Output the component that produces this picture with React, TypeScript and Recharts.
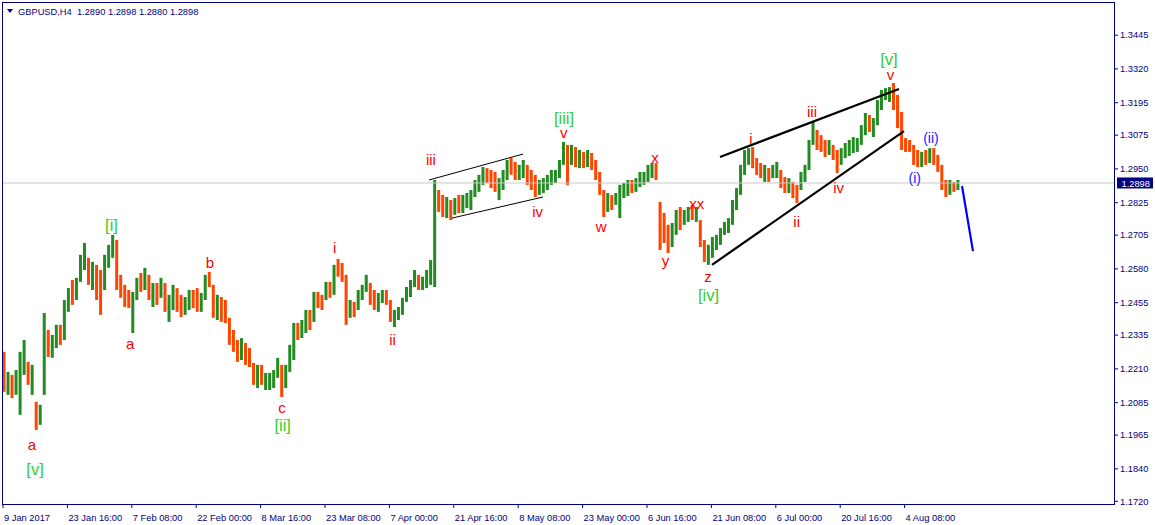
import React from 'react';
import { ComposedChart, Bar, XAxis, YAxis, Cell, ReferenceLine, ReferenceDot } from 'recharts';

const highs = [
  1.2273, 1.2199, 1.2188, 1.2206, 1.2273, 1.2317, 1.2236, 1.2225, 1.2088, 1.2077,
  1.2417, 1.2354, 1.2336, 1.2373, 1.2373, 1.2465, 1.2509, 1.2539, 1.2547, 1.2632,
  1.2676, 1.2621, 1.2606, 1.2595, 1.2576, 1.2632, 1.2669, 1.2706, 1.2687, 1.2558,
  1.2521, 1.2502, 1.2495, 1.2547, 1.2565, 1.2584, 1.2558, 1.2528, 1.2528, 1.2547,
  1.2528, 1.2484, 1.2521, 1.2509, 1.2484, 1.2476, 1.2502, 1.2502, 1.2509, 1.2491,
  1.2558, 1.2569, 1.2521, 1.2484, 1.2476, 1.2465, 1.2399, 1.2354, 1.2317, 1.2324,
  1.2306, 1.2287, 1.2232, 1.2225, 1.2225, 1.2195, 1.2195, 1.2206, 1.2251, 1.2225,
  1.2225, 1.2299, 1.2380, 1.2380, 1.2391, 1.2428, 1.2428, 1.2495, 1.2495, 1.2484,
  1.2532, 1.2532, 1.2595, 1.2617, 1.2602, 1.2558, 1.2465, 1.2458, 1.2502, 1.2521,
  1.2558, 1.2528, 1.2502, 1.2491, 1.2502, 1.2502, 1.2465, 1.2428, 1.2439, 1.2473,
  1.2513, 1.2539, 1.2576, 1.2558, 1.2551, 1.2576, 1.2613, 1.2909, 1.2872, 1.2854,
  1.2846, 1.2835, 1.2842, 1.2854, 1.2854, 1.2861, 1.2872, 1.2909, 1.2928, 1.2957,
  1.2953, 1.2946, 1.2939, 1.2916, 1.2946, 1.2983, 1.2990, 1.2976, 1.2965, 1.2983,
  1.2965, 1.2946, 1.2928, 1.2909, 1.2916, 1.2928, 1.2946, 1.2946, 1.2983, 1.3050,
  1.3039, 1.3039, 1.3031, 1.3020, 1.3013, 1.3020, 1.3009, 1.2983, 1.2939, 1.2872,
  1.2861, 1.2854, 1.2861, 1.2891, 1.2898, 1.2909, 1.2909, 1.2916, 1.2939, 1.2939,
  1.2965, 1.2972, 1.2972, 1.2828, 1.2787, 1.2743, 1.2750, 1.2798, 1.2809, 1.2798,
  1.2809, 1.2817, 1.2809, 1.2761, 1.2687, 1.2669, 1.2698, 1.2706, 1.2731, 1.2754,
  1.2768, 1.2835, 1.2879, 1.2965, 1.3020, 1.3027, 1.3031, 1.2990, 1.2972, 1.2965,
  1.2953, 1.2965, 1.2976, 1.2946, 1.2920, 1.2916, 1.2902, 1.2891, 1.2939, 1.2965,
  1.3057, 1.3124, 1.3094, 1.3075, 1.3057, 1.3057, 1.3039, 1.3020, 1.3027, 1.3046,
  1.3057, 1.3068, 1.3064, 1.3112, 1.3157, 1.3150, 1.3138, 1.3205, 1.3242, 1.3249,
  1.3253, 1.3268, 1.3224, 1.3161, 1.3064, 1.3057, 1.3039, 1.3020, 1.3013, 1.3020,
  1.3027, 1.3027, 1.3002, 1.2965, 1.2909, 1.2909, 1.2902, 1.2909,
];

const lows = [
  1.2125, 1.2114, 1.2102, 1.2114, 1.2040, 1.2188, 1.2151, 1.2114, 1.1984, 1.2003,
  1.2114, 1.2254, 1.2251, 1.2287, 1.2299, 1.2317, 1.2421, 1.2447, 1.2465, 1.2532,
  1.2576, 1.2521, 1.2502, 1.2465, 1.2410, 1.2502, 1.2584, 1.2621, 1.2502, 1.2473,
  1.2439, 1.2435, 1.2343, 1.2465, 1.2495, 1.2502, 1.2465, 1.2439, 1.2447, 1.2473,
  1.2421, 1.2384, 1.2428, 1.2421, 1.2402, 1.2410, 1.2428, 1.2435, 1.2421, 1.2421,
  1.2465, 1.2513, 1.2399, 1.2391, 1.2384, 1.2380, 1.2299, 1.2273, 1.2236, 1.2243,
  1.2225, 1.2217, 1.2151, 1.2139, 1.2151, 1.2132, 1.2132, 1.2139, 1.2177, 1.2106,
  1.2139, 1.2199, 1.2243, 1.2317, 1.2324, 1.2343, 1.2354, 1.2384, 1.2435, 1.2428,
  1.2465, 1.2473, 1.2484, 1.2551, 1.2532, 1.2373, 1.2399, 1.2402, 1.2428, 1.2465,
  1.2495, 1.2447, 1.2428, 1.2421, 1.2454, 1.2447, 1.2384, 1.2365, 1.2391, 1.2410,
  1.2458, 1.2476, 1.2513, 1.2502, 1.2502, 1.2509, 1.2521, 1.2513, 1.2791, 1.2772,
  1.2768, 1.2761, 1.2780, 1.2787, 1.2787, 1.2805, 1.2798, 1.2846, 1.2865, 1.2891,
  1.2898, 1.2879, 1.2865, 1.2835, 1.2872, 1.2909, 1.2928, 1.2909, 1.2909, 1.2916,
  1.2891, 1.2872, 1.2846, 1.2854, 1.2861, 1.2872, 1.2891, 1.2898, 1.2916, 1.2965,
  1.2891, 1.2965, 1.2957, 1.2953, 1.2953, 1.2957, 1.2946, 1.2909, 1.2854, 1.2772,
  1.2791, 1.2798, 1.2817, 1.2768, 1.2842, 1.2850, 1.2861, 1.2865, 1.2883, 1.2891,
  1.2902, 1.2916, 1.2909, 1.2650, 1.2676, 1.2639, 1.2661, 1.2706, 1.2724, 1.2743,
  1.2754, 1.2761, 1.2754, 1.2661, 1.2606, 1.2595, 1.2621, 1.2650, 1.2669, 1.2706,
  1.2713, 1.2743, 1.2798, 1.2854, 1.2928, 1.2965, 1.2953, 1.2928, 1.2916, 1.2902,
  1.2902, 1.2916, 1.2916, 1.2879, 1.2861, 1.2861, 1.2842, 1.2824, 1.2872, 1.2902,
  1.2946, 1.3039, 1.3020, 1.3013, 1.2994, 1.3002, 1.2983, 1.2935, 1.2965, 1.2990,
  1.2998, 1.3009, 1.3013, 1.3039, 1.3075, 1.3087, 1.3068, 1.3112, 1.3168, 1.3205,
  1.3198, 1.3168, 1.3101, 1.3020, 1.3013, 1.3013, 1.2965, 1.2957, 1.2957, 1.2965,
  1.2972, 1.2965, 1.2939, 1.2872, 1.2846, 1.2854, 1.2865, 1.2872,
];

const closes = [
  1.2151, 1.2169, 1.2125, 1.2188, 1.2243, 1.2262, 1.2169, 1.2206, 1.2021, 1.2065,
  1.2373, 1.2280, 1.2299, 1.2354, 1.2317, 1.2447, 1.2495, 1.2465, 1.2532, 1.2606,
  1.2650, 1.2539, 1.2576, 1.2502, 1.2465, 1.2621, 1.2650, 1.2687, 1.2521, 1.2502,
  1.2484, 1.2465, 1.2465, 1.2521, 1.2509, 1.2558, 1.2484, 1.2502, 1.2465, 1.2532,
  1.2447, 1.2465, 1.2484, 1.2473, 1.2428, 1.2465, 1.2484, 1.2465, 1.2447, 1.2473,
  1.2547, 1.2539, 1.2428, 1.2447, 1.2410, 1.2399, 1.2317, 1.2299, 1.2262, 1.2299,
  1.2280, 1.2236, 1.2177, 1.2199, 1.2169, 1.2169, 1.2177, 1.2188, 1.2236, 1.2151,
  1.2206, 1.2280, 1.2361, 1.2336, 1.2373, 1.2410, 1.2391, 1.2473, 1.2465, 1.2454,
  1.2502, 1.2484, 1.2576, 1.2569, 1.2547, 1.2428, 1.2447, 1.2428, 1.2484, 1.2509,
  1.2521, 1.2465, 1.2447, 1.2473, 1.2484, 1.2465, 1.2399, 1.2410, 1.2428, 1.2465,
  1.2502, 1.2528, 1.2547, 1.2532, 1.2539, 1.2558, 1.2576, 1.2872, 1.2817, 1.2798,
  1.2817, 1.2780, 1.2835, 1.2798, 1.2817, 1.2842, 1.2854, 1.2891, 1.2902, 1.2939,
  1.2916, 1.2898, 1.2879, 1.2891, 1.2928, 1.2965, 1.2946, 1.2928, 1.2946, 1.2953,
  1.2909, 1.2891, 1.2872, 1.2891, 1.2902, 1.2909, 1.2916, 1.2928, 1.2965, 1.3027,
  1.2983, 1.3020, 1.2983, 1.3002, 1.2976, 1.2990, 1.2965, 1.2928, 1.2872, 1.2817,
  1.2842, 1.2835, 1.2842, 1.2854, 1.2872, 1.2891, 1.2879, 1.2902, 1.2916, 1.2924,
  1.2946, 1.2953, 1.2928, 1.2724, 1.2706, 1.2669, 1.2724, 1.2780, 1.2761, 1.2780,
  1.2791, 1.2780, 1.2798, 1.2687, 1.2632, 1.2650, 1.2669, 1.2687, 1.2717, 1.2739,
  1.2754, 1.2817, 1.2865, 1.2946, 1.3002, 1.3002, 1.2983, 1.2946, 1.2928, 1.2939,
  1.2916, 1.2946, 1.2965, 1.2891, 1.2879, 1.2891, 1.2872, 1.2854, 1.2916, 1.2946,
  1.3039, 1.3094, 1.3050, 1.3039, 1.3020, 1.3039, 1.3002, 1.2965, 1.3013, 1.3027,
  1.3039, 1.3050, 1.3057, 1.3094, 1.3138, 1.3112, 1.3124, 1.3187, 1.3224, 1.3224,
  1.3235, 1.3205, 1.3131, 1.3057, 1.3039, 1.3027, 1.3002, 1.2983, 1.2990, 1.2983,
  1.3002, 1.2983, 1.2953, 1.2891, 1.2872, 1.2891, 1.2879, 1.2898,
];

const xTickIndex = [
  -0.125, 15.875, 31.875, 47.875, 63.875, 79.875, 95.875, 111.875,
  127.875, 143.875, 159.875, 175.875, 191.875, 207.875, 223.875,
];
const xTickLabels = [
  '9 Jan 2017', '23 Jan 16:00', '7 Feb 08:00', '22 Feb 00:00', '8 Mar 16:00',
  '23 Mar 08:00', '7 Apr 00:00', '21 Apr 16:00', '8 May 08:00', '23 May 00:00',
  '6 Jun 16:00', '21 Jun 08:00', '6 Jul 00:00', '20 Jul 16:00', '4 Aug 08:00',
];
const yTicks = [
  1.172, 1.184, 1.1965, 1.2085, 1.221, 1.2335, 1.2455, 1.258,
  1.2705, 1.2825, 1.295, 1.3075, 1.3195, 1.332, 1.3445,
];
const lastPrice = 1.2898;
const titleText = 'GBPUSD,H4  1.2890 1.2898 1.2880 1.2898';

// Elliott wave labels: bar index, price (baseline), text, kind
const waveIndex = [
  7.83, 26.83, 69.37, 139.25, 175.16, 220.0,
  7.08, 31.5, 51.3, 69.19, 82.29, 96.65, 106.2, 132.72, 139.18, 148.52, 161.86,
  164.47, 172.22, 175.03, 185.71, 197.07, 200.87, 207.5, 220.37,
  226.4, 230.43,
];
const wavePrice = [
  1.1819, 1.2722, 1.198, 1.3118, 1.2463, 1.3334,
  1.191, 1.2284, 1.2583, 1.2047, 1.2638, 1.2299, 1.2965, 1.2773, 1.3063, 1.2718, 1.2971,
  1.259, 1.2801, 1.2533, 1.3042, 1.2736, 1.3143, 1.286, 1.3279,
  1.2898, 1.3046,
];
const waveText = [
  '[v]', '[i]', '[ii]', '[iii]', '[iv]', '[v]',
  'a', 'a', 'b', 'c', 'i', 'ii', 'iii', 'iv', 'v', 'w', 'x',
  'y', 'xx', 'z', 'i', 'ii', 'iii', 'iv', 'v',
  '(i)', '(ii)',
];
const waveKind = [
  'g', 'g', 'g', 'g', 'g', 'g',
  'r', 'r', 'r', 'r', 'r', 'r', 'r', 'r', 'r', 'r', 'r',
  'r', 'r', 'r', 'r', 'r', 'r', 'r', 'r',
  'b', 'b',
];

// Trend/channel lines: start and end in bar index / price, with kind
const lineStart = [
  [105.71, 1.2909], [111.43, 1.2768], [178.01, 1.2994], [176.02, 1.2595], [238.14, 1.2887],
];
const lineEnd = [
  [129.07, 1.3005], [134.04, 1.2846], [222.48, 1.3246], [223.73, 1.309], [240.87, 1.2646],
];
const lineKind = ['thin', 'thin', 'thick', 'thick', 'blue'];

const NAVY = '#000080';
const GREEN = '#228B22';
const RED = '#FF4500';
const FONT = '"Liberation Sans", Arial, sans-serif';

const data = highs.map((h, i) => {
  const open = i > 0 ? closes[i - 1] : h;
  return { i, high: h, low: lows[i], close: closes[i], up: closes[i] >= open };
});

const kindStyle: Record<string, { fill: string; size: number }> = {
  g: { fill: '#32CD32', size: 16.5 },
  r: { fill: '#FF0000', size: 15 },
  b: { fill: '#2222FF', size: 14 },
};

const XTick = (props: any) => {
  const { x, y, payload } = props;
  const k = xTickIndex.indexOf(payload.value);
  return (
    <text x={x + 1} y={y + 11} fill={NAVY} fontSize={9.3} fontFamily={FONT}>
      {xTickLabels[k]}
    </text>
  );
};

const PriceTag = (props: any) => {
  const vb = props.viewBox;
  if (!vb) return null;
  const x = vb.x + vb.width + 3;
  const y = vb.y;
  return (
    <g>
      <rect x={x} y={y - 5.5} width={36} height={11} fill={NAVY} />
      <text x={x + 4.5} y={y + 3.6} fill="#ffffff" fontSize={9.3} fontFamily={FONT}>
        {lastPrice.toFixed(4)}
      </text>
    </g>
  );
};

export default function App() {
  return (
    <div style={{ position: 'absolute', left: 0, top: 0, width: 1155, height: 525, background: '#fff' }}>
      <ComposedChart
        width={1155}
        height={525}
        data={data}
        margin={{ top: 3, right: 0, bottom: 0, left: 3 }}
      >
        <XAxis
          dataKey="i"
          type="number"
          domain={[-0.125, 275.9]}
          allowDataOverflow
          ticks={xTickIndex}
          interval={0}
          height={21}
          tickSize={4}
          axisLine={false}
          tickLine={{ stroke: NAVY }}
          tick={<XTick />}
        />
        <YAxis
          orientation="right"
          type="number"
          domain={[1.171, 1.3564]}
          allowDataOverflow
          ticks={yTicks}
          interval={0}
          width={41}
          tickSize={4}
          axisLine={false}
          tickLine={{ stroke: NAVY }}
          tickFormatter={(v: number) => v.toFixed(4)}
          tick={{ fill: NAVY, fontSize: 9.3, fontFamily: FONT }}
        />
        <ReferenceLine y={lastPrice} stroke="#C8C8C8" strokeWidth={1} label={<PriceTag />} />
        <Bar
          dataKey={(d: any) => [d.low, d.high]}
          barSize={3}
          isAnimationActive={false}
        >
          {data.map((d) => (
            <Cell key={d.i} fill={d.up ? GREEN : RED} />
          ))}
        </Bar>
        {lineStart.map((s, k) => (
          <ReferenceLine
            key={'ln' + k}
            segment={[{ x: s[0], y: s[1] }, { x: lineEnd[k][0], y: lineEnd[k][1] }]}
            stroke={lineKind[k] === 'blue' ? '#0000FF' : '#000000'}
            strokeWidth={lineKind[k] === 'thin' ? 1 : 2.2}
            ifOverflow="visible"
          />
        ))}
        {waveIndex.map((wx, k) => {
          const st = kindStyle[waveKind[k]];
          return (
            <ReferenceDot
              key={'w' + k}
              x={wx}
              y={wavePrice[k]}
              r={0}
              ifOverflow="visible"
              shape={(p: any) => (
                <text
                  x={p.cx}
                  y={p.cy}
                  textAnchor="middle"
                  fill={st.fill}
                  fontSize={st.size}
                  fontFamily={FONT}
                >
                  {waveText[k]}
                </text>
              )}
            />
          );
        })}
      </ComposedChart>
      <div
        style={{
          position: 'absolute',
          left: 2,
          top: 2,
          width: 1113,
          height: 503,
          boxSizing: 'border-box',
          border: '1px solid ' + NAVY,
          pointerEvents: 'none',
        }}
      />
      <svg
        width={300}
        height={20}
        style={{ position: 'absolute', left: 0, top: 0, pointerEvents: 'none' }}
      >
        <polygon points="7,9 13,9 10,13" fill={NAVY} />
        <text x={18} y={14.5} fill={NAVY} fontSize={9.3} fontFamily={FONT} style={{ whiteSpace: 'pre' }}>
          {titleText}
        </text>
      </svg>
    </div>
  );
}
